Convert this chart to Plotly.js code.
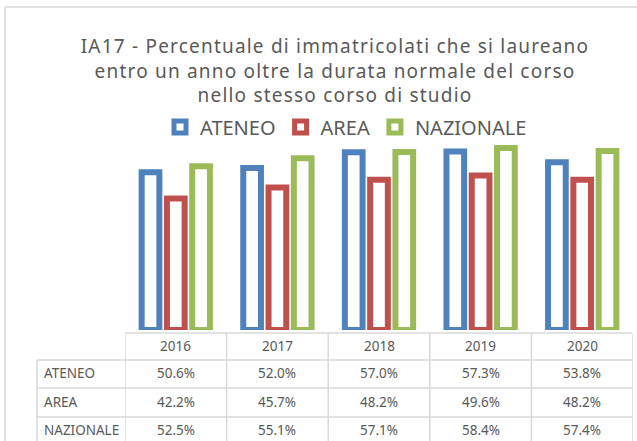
<!DOCTYPE html>
<html>
<head>
<meta charset="utf-8">
<script src="https://cdn.plot.ly/plotly-3.0.1.min.js"></script>
<style>html,body{margin:0;padding:0;background:#fff;}#chart{width:637px;height:441px;}
#chart .gtitle{letter-spacing:1.2px;}
</style>
</head>
<body>
<div id="chart"></div>
<script>
const years = ['2016', '2017', '2018', '2019', '2020'];
const seriesNames = ['ATENEO', 'AREA', 'NAZIONALE'];
const ateneo = [50.6, 52.0, 57.0, 57.3, 53.8];
const area = [42.2, 45.7, 48.2, 49.6, 48.2];
const nazionale = [52.5, 55.1, 57.1, 58.4, 57.4];
const colors = ['#4F81BD', '#C0504D', '#9BBB59'];

const allValues = [ateneo, area, nazionale];
const W = 637, H = 441;
const L = 125, R = 633, T = 143, B = 330;
const px2x = px => (px - L) / (R - L);
const py2y = py => (B - py) / (B - T);
const FONT = 'Noto Sans, sans-serif';
const GREY = '#595959';
const LINE = '#D9D9D9';

const traces = allValues.map((vals, i) => ({
  type: 'bar',
  name: seriesNames[i],
  x: years,
  y: vals.map(v => v / 100),
  marker: { color: '#FFFFFF', line: { color: colors[i], width: 6 } },
  cliponaxis: false,
  hoverinfo: 'skip'
}));

const shapes = [];
const annotations = [];
const ln = (x0, y0, x1, y1, xref) => ({ type: 'line', xref: xref || 'paper', yref: 'paper', x0, x1, y0, y1, line: { color: LINE, width: 1.5 } });
// chart border (top and left)
shapes.push(ln(px2x(5), py2y(7), px2x(700), py2y(7)));
shapes.push(ln(px2x(5), py2y(7), px2x(5), py2y(500)));
// table rows
const rowLines = [333, 360, 388, 417, 446];
shapes.push(ln(px2x(125), py2y(333), px2x(632), py2y(333)));
rowLines.slice(1).forEach(py => shapes.push(ln(px2x(37), py2y(py), px2x(632), py2y(py))));
// vertical lines
shapes.push(ln(px2x(37), py2y(360), px2x(37), py2y(446)));
for (let i = 0; i <= years.length; i++) {
  shapes.push(ln(i - 0.5, py2y(333), i - 0.5, py2y(446), 'x'));
}
// header
const TF = { family: FONT, size: 13.5, color: GREY };
years.forEach((yr, j) => annotations.push({ xref: 'x', yref: 'paper', x: j, y: py2y(346), text: yr, showarrow: false, xanchor: 'center', yanchor: 'middle', font: TF }));
const rowY = [373, 402, 430];
seriesNames.forEach((name, i) => {
  annotations.push({ xref: 'paper', yref: 'paper', x: px2x(42), y: py2y(rowY[i]), text: name, showarrow: false, xanchor: 'left', yanchor: 'middle', font: TF });
  allValues[i].forEach((v, j) => annotations.push({ xref: 'x', yref: 'paper', x: j, y: py2y(rowY[i]), text: v.toFixed(1) + '%', showarrow: false, xanchor: 'center', yanchor: 'middle', font: TF }));
});

const layout = {
  width: W, height: H,
  margin: { l: L, r: W - R, t: T, b: H - B, pad: 0 },
  paper_bgcolor: '#FFFFFF', plot_bgcolor: '#FFFFFF',
  font: { family: FONT, color: GREY },
  title: {
    text: 'IA17 - Percentuale di immatricolati che si laureano<br>entro un anno oltre la durata normale del corso<br>nello stesso corso di studio',
    font: { family: FONT, size: 19, color: GREY },
    x: 0.5, xanchor: 'center', xref: 'container',
    y: 1 - 34 / H, yanchor: 'top', yref: 'container'
  },
  barmode: 'group', bargap: 0.253, bargroupgap: 0.30,
  showlegend: true,
  legend: { orientation: 'h', x: px2x(346), xanchor: 'center', y: py2y(127), yanchor: 'middle', font: { family: FONT, size: 20, color: GREY }, itemclick: false, bgcolor: 'rgba(0,0,0,0)' },
  xaxis: { type: 'category', showticklabels: false, showgrid: false, zeroline: false, showline: false, ticks: '', range: [-0.5, 4.5] },
  yaxis: { range: [0, 0.6], visible: false, showgrid: false, zeroline: false },
  shapes: shapes,
  annotations: annotations
};

Plotly.newPlot('chart', traces, layout, { displayModeBar: false, staticPlot: true }).then(gd => {
  const t = gd.querySelector('.gtitle');
  if (t) {
    const bb = t.getBBox();
    const cx = bb.x + bb.width / 2;
    // place the title block where the reference has it
    t.setAttribute('transform', 'translate(' + (335 - cx) + ',' + (33 - bb.y) + ')');
  }
});
</script>
</body>
</html>
